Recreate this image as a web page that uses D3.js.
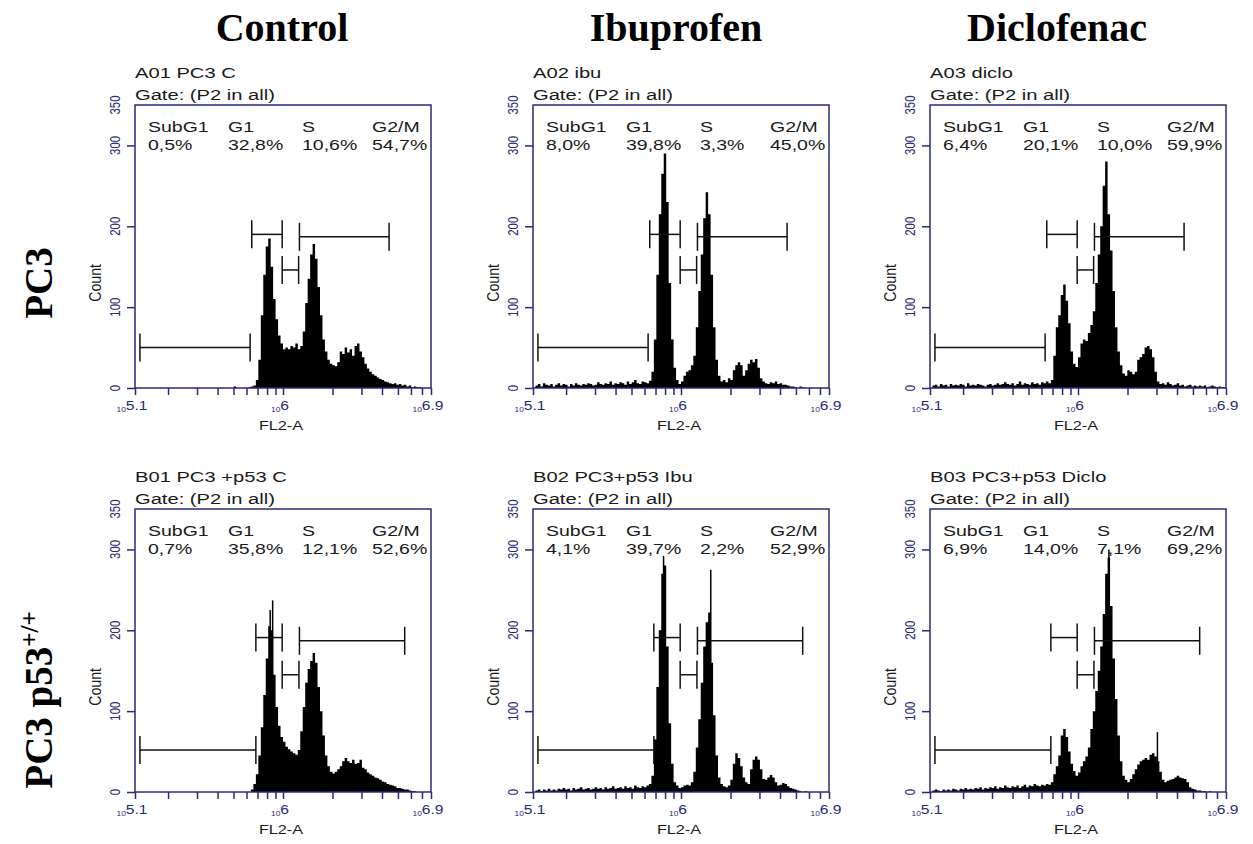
<!DOCTYPE html>
<html><head><meta charset="utf-8">
<script src="https://cdn.jsdelivr.net/npm/d3@7"></script>
<style>body{margin:0;background:#fff;} svg{display:block;}</style>
</head><body><svg id="c" width="1253" height="844"></svg>
<script>
// ---------------- DATA ----------------
const columnTitles = ["Control", "Ibuprofen", "Diclofenac"];
const rowTitles = ["PC3", "PC3 p53"];
const rowTitleSup = ["", "+/+"];
const panelNames = ["A01 PC3 C", "A02 ibu", "A03 diclo", "B01 PC3 +p53 C", "B02 PC3+p53 Ibu", "B03 PC3+p53 Diclo"];
const gateText = "Gate: (P2 in all)";
const phaseLabels = ["SubG1", "G1", "S", "G2/M"];
const phasePercents = [
  ["0,5%", "32,8%", "10,6%", "54,7%"],
  ["8,0%", "39,8%", "3,3%", "45,0%"],
  ["6,4%", "20,1%", "10,0%", "59,9%"],
  ["0,7%", "35,8%", "12,1%", "52,6%"],
  ["4,1%", "39,7%", "2,2%", "52,9%"],
  ["6,9%", "14,0%", "7,1%", "69,2%"]
];
const yTickValues = [0, 100, 200, 300];
const yTickLabels = [0, 100, 200, 300, 350];
const xMinorTicks = [10 ** 5.1, 2e5, 3e5, 4e5, 5e5, 6e5, 7e5, 8e5, 9e5, 1e6, 2e6, 3e6, 4e6, 5e6, 6e6, 7e6, 10 ** 6.9];
const xTickLabelExp = ["5.1", "6", "6.9"];
const xAxisTitle = "FL2-A";
const yAxisTitle = "Count";

// histogram bins: log10(FL2-A) from 5.1 to 6.9, bin width 0.015 (120 bins)
const binLogStart = 5.1, binLogWidth = 0.015;
const histA01 = [
  0,0,0,0,0,0,0,0,0,0, 0,0,0,0,0,0,0,0,0,0, 0,0,0,0,0,0,0,0,0,0, 0,0,0,0,0,0,0,0,0,0,
  2,0,0,0,0,0,1,2,3,10,
  35,90,140,175,185,150,110,85,65,55,
  48,50,48,52,50,55,48,52,70,105,
  135,165,178,160,125,90,60,45,35,30,
  28,27,32,45,42,50,44,48,40,52,
  55,45,38,30,24,20,17,15,13,11,
  10,8,7,6,5,6,4,5,3,4,
  2,3,1,2,1,1,0,0,0,0];
const histA02 = [
  0,3,5,2,6,4,3,5,2,4, 6,3,5,4,2,5,3,6,4,3, 5,4,6,5,3,4,7,5,4,6, 5,8,4,6,5,7,6,4,8,5, 7,10,6,5,8,7,6,9,
  20,60,140,215,265,290,230,130,60,25,
  10,5,8,15,20,22,28,40,75,120,
  165,210,242,215,140,75,35,15,8,10,
  7,12,10,22,28,32,28,15,22,30,
  35,32,36,25,12,8,6,5,7,6,
  8,5,6,4,4,3,2,2,1,0,
  2,1,0,0,0,0,0,0,0,0,0,0];
const histA03 = [
  0,3,4,2,5,3,4,2,5,3, 4,3,5,4,2,6,3,4,3,5, 4,3,2,4,5,3,4,6,4,5, 7,5,4,6,3,5,8,4,6,5, 4,7,5,6,4,7,6,8,
  6,
  10,40,75,90,115,128,108,80,45,30,
  26,38,55,60,58,68,78,95,130,165,
  200,250,280,215,170,120,75,45,28,18,
  15,22,20,17,20,35,38,42,50,52,
  48,38,20,8,5,6,4,7,5,3,
  4,6,3,4,2,3,4,2,3,2,3,2,3,1,2,3,2,1,2,1,1];
const histB01 = [
  0,0,0,0,0,0,0,0,0,0, 0,0,0,0,0,0,0,0,0,0, 0,0,0,0,0,0,0,0,0,0, 0,0,0,0,0,0,0,0,0,0, 0,0,0,0,0,0,0,
  3,
  10,22,45,80,120,165,205,200,145,105,
  82,68,62,56,53,50,48,46,52,75,
  105,135,152,162,172,160,130,100,70,45,
  32,25,23,25,28,32,38,42,38,36,
  40,35,36,40,30,28,24,22,20,18,
  17,15,13,12,10,9,8,7,5,5,
  4,3,3,2,1,1,0,0,0,0,0,0];
const histB02 = [
  0,2,3,1,3,2,4,2,3,2, 4,3,5,3,4,2,5,3,4,6, 3,4,5,3,4,6,4,5,3,6, 4,5,7,4,5,6,4,7,5,6, 4,8,6,5,7,6,8,10,
  20,65,130,200,270,280,180,85,35,12,
  8,5,6,8,9,8,12,25,55,90,
  135,180,210,222,160,95,45,18,10,7,
  6,8,15,35,48,42,32,18,12,10,
  28,40,44,40,28,16,15,18,21,18,
  12,8,9,11,10,7,5,4,3,2,
  1,0,1,0,0,0,0,0,0,0,0,0];
const histB03 = [
  0,2,3,2,1,3,2,3,2,4, 3,2,4,3,5,3,4,3,5,4, 6,3,5,4,6,5,7,4,6,5, 8,6,5,7,6,8,5,7,9,6, 8,7,10,8,7,9,8,10,
  9,
  12,22,32,45,70,78,68,50,35,26,
  20,24,32,38,44,55,78,100,125,150,
  180,220,270,290,230,165,115,70,38,20,
  15,12,16,22,28,34,38,40,42,40,
  46,48,44,38,25,15,12,14,15,16,
  18,20,18,17,16,12,6,4,3,2,
  2,1,1,0,1,0,0,0,0,0,0];
const histograms = [histA01, histA02, histA03, histB01, histB02, histB03];

// thin single-channel spikes: [log10 position, count]
const spikes = [
  [],
  [],
  [],
  [[5.922, 225], [5.937, 237]],
  [[5.894, 292], [6.181, 275]],
  [[6.188, 300], [6.483, 74]]
];

// gate markers (log10 limits, count level), one set per row
const gateNames = ["SubG1", "G1", "S", "G2/M"];
const gatesRow1Lo = [5.13, 5.81, 5.995, 6.10];
const gatesRow1Hi = [5.80, 5.995, 6.095, 6.645];
const gatesRow1Y = [50, 190, 146, 187];
const gatesRow2Lo = [5.13, 5.835, 5.995, 6.10];
const gatesRow2Hi = [5.835, 5.995, 6.097, 6.74];
const gatesRow2Y = [52, 191, 145, 187];

// ---------------- LAYOUT ----------------
const svg = d3.select("#c");
const panelLeft = [135, 533, 930];
const panelTop = [105, 509];
const colTitleX = [282, 676, 1057];
const pw = 296, ph = 283;
const navy = "#2a2a78";
const sx = 1.3; // horizontal stretch of the original bitmap text

const x = d3.scaleLog().domain([10 ** 5.1, 10 ** 6.9]).range([0, pw]);
const y = d3.scaleLinear().domain([0, 350]).range([ph, 0]);

function stext(g, tx, ty, str, size, opts = {}) {
  return g.append("text")
    .attr("transform", `translate(${tx},${ty}) scale(${opts.sx || sx},1)`)
    .attr("font-family", "Liberation Sans, Arial, sans-serif")
    .attr("font-size", size)
    .attr("fill", opts.fill || "#1a1a1a")
    .attr("text-anchor", opts.anchor || "start")
    .text(str);
}

// column titles
columnTitles.forEach((t, c) => {
  svg.append("text")
    .attr("x", colTitleX[c])
    .attr("y", 41)
    .attr("text-anchor", "middle")
    .attr("font-family", "Liberation Serif, Times New Roman, serif")
    .attr("font-weight", "bold")
    .attr("font-size", 40)
    .attr("fill", "#000")
    .text(t);
});

// row titles
rowTitles.forEach((t, r) => {
  const cy = r === 0 ? 283 : 700;
  const tt = svg.append("text")
    .attr("transform", `translate(52,${cy}) rotate(-90)`)
    .attr("text-anchor", "middle")
    .attr("font-family", "Liberation Serif, Times New Roman, serif")
    .attr("font-weight", "bold")
    .attr("font-size", 39)
    .attr("fill", "#000");
  tt.append("tspan").text(t);
  if (rowTitleSup[r]) {
    tt.append("tspan").attr("dy", -14).attr("font-size", 25).text(rowTitleSup[r]);
  }
});

const area = d3.area()
  .x(d => x(d.v))
  .y0(ph)
  .y1(d => y(d.c))
  .curve(d3.curveStepAfter);

for (let p = 0; p < 6; p++) {
  const r = Math.floor(p / 3), c = p % 3;
  const g = svg.append("g").attr("transform", `translate(${panelLeft[c]},${panelTop[r]})`);

  g.append("clipPath").attr("id", "clip" + p)
    .append("rect").attr("x", 0).attr("y", 0).attr("width", pw).attr("height", ph);

  // histogram
  const hist = histograms[p];
  const pts = hist.map((cnt, i) => ({ v: 10 ** (binLogStart + i * binLogWidth), c: cnt }));
  pts.push({ v: 10 ** (binLogStart + hist.length * binLogWidth), c: hist[hist.length - 1] });
  g.append("path")
    .attr("clip-path", `url(#clip${p})`)
    .attr("d", area(pts))
    .attr("fill", "#000");

  g.append("g").attr("clip-path", `url(#clip${p})`)
    .selectAll("line").data(spikes[p]).join("line")
    .attr("x1", d => x(10 ** d[0])).attr("x2", d => x(10 ** d[0]))
    .attr("y1", ph).attr("y2", d => y(d[1]))
    .attr("stroke", "#000").attr("stroke-width", 1.5);

  // gates
  const lo = r === 0 ? gatesRow1Lo : gatesRow2Lo;
  const hi = r === 0 ? gatesRow1Hi : gatesRow2Hi;
  const gy = r === 0 ? gatesRow1Y : gatesRow2Y;
  gateNames.forEach((nm, k) => {
    const x1 = x(10 ** lo[k]), x2 = x(10 ** hi[k]), yy = y(gy[k]);
    const gg = g.append("g").attr("stroke", "#111").attr("stroke-width", 1.5);
    gg.append("line").attr("x1", x1).attr("x2", x2).attr("y1", yy).attr("y2", yy);
    gg.append("line").attr("x1", x1).attr("x2", x1).attr("y1", yy - 14).attr("y2", yy + 14);
    gg.append("line").attr("x1", x2).attr("x2", x2).attr("y1", yy - 14).attr("y2", yy + 14);
  });

  // frame
  g.append("rect").attr("x", 0).attr("y", 0).attr("width", pw).attr("height", ph)
    .attr("fill", "none").attr("stroke", navy).attr("stroke-width", 1.5);

  // x axis ticks
  const xa = g.append("g").attr("transform", `translate(0,${ph})`)
    .call(d3.axisBottom(x).tickValues(xMinorTicks).tickSize(7).tickFormat(""));
  xa.select(".domain").remove();
  xa.selectAll("line").attr("stroke", navy).attr("stroke-width", 1.5);

  // y axis ticks
  const ya = g.append("g")
    .call(d3.axisLeft(y).tickValues(yTickValues).tickSize(8).tickFormat(""));
  ya.select(".domain").remove();
  ya.selectAll("line").attr("stroke", navy).attr("stroke-width", 1.5);

  // y tick labels (rotated)
  yTickLabels.forEach(v => {
    g.append("text")
      .attr("transform", `translate(-15,${y(v)}) rotate(-90) scale(0.95,1.15)`)
      .attr("text-anchor", "middle")
      .attr("font-family", "Liberation Sans, Arial, sans-serif")
      .attr("font-size", 12)
      .attr("fill", navy)
      .text(v);
  });
  // y title
  g.append("text")
    .attr("transform", `translate(-34,${y(130)}) rotate(-90) scale(1.05,1.2)`)
    .attr("text-anchor", "middle")
    .attr("font-family", "Liberation Sans, Arial, sans-serif")
    .attr("font-size", 13.5)
    .attr("fill", "#1a1a1a")
    .text(yAxisTitle);

  // x tick labels: 10^exp
  xTickLabelExp.forEach(e => {
    const t = g.append("text")
      .attr("transform", `translate(${x(10 ** (+e)) - 3},${ph + 22}) scale(1.2,1)`)
      .attr("text-anchor", "middle")
      .attr("font-family", "Liberation Sans, Arial, sans-serif")
      .attr("fill", navy);
    t.append("tspan").attr("font-size", 7).attr("dy", 2).text("10");
    t.append("tspan").attr("font-size", 13).attr("dy", -2).text(e);
  });
  // x title
  stext(g, pw / 2 - 2, ph + 42, xAxisTitle, 13, { anchor: "middle", sx: 1.25 });

  // panel titles
  stext(g, 0, -27, panelNames[p], 15.5);
  stext(g, 0, -5, gateText, 15.5);

  // phase stats
  const colX = [13, 93, 167, 237];
  phaseLabels.forEach((lb, k) => {
    stext(g, colX[k], 27, lb, 15);
    stext(g, colX[k], 45, phasePercents[p][k], 15);
  });
}
</script></body></html>
